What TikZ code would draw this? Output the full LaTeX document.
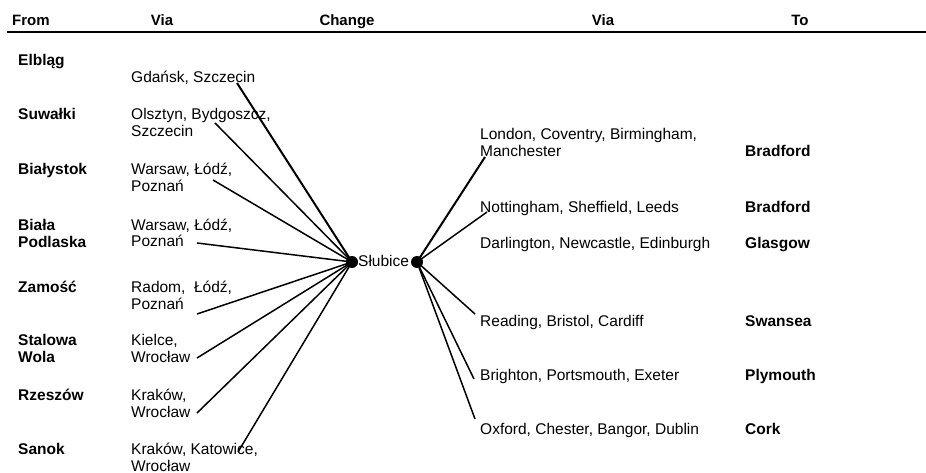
\documentclass[tikz,border=0pt]{standalone}
\usepackage{fontspec}
\setmainfont{Liberation Sans}
\begin{document}
\begin{tikzpicture}[x=1pt, y=-1pt,
        viatext/.style={anchor=base west, inner sep=0pt, align=left, font=\fontsize{15.5}{17}\selectfont},
        town/.style={anchor=base west, inner sep=0pt, align=left, font=\fontsize{15.5}{17.5}\selectfont\bfseries},
        colhead/.style={anchor=base, inner sep=0pt, font=\fontsize{15}{17}\selectfont\bfseries},
        hub/.style={circle, fill, inner sep=0pt, minimum size=12pt},
        route/.style={line width=1.5pt},
        mainroute/.style={line width=2pt}]
        \useasboundingbox (0,0) rectangle (926,473);

        % header
        \node (hFrom) [colhead, anchor=base west] at (12,26) {From};
        \node (hVia1) [colhead] at (162,26) {Via};
        \node (hChange) [colhead] at (347,26) {Change};
        \node (hVia2) [colhead] at (603,26) {Via};
        \node (hTo) [colhead] at (800,26) {To};
        \coordinate (ruleL) at (7,32);
        \coordinate (ruleR) at (926,32);
        \draw[line width=1.6pt] (ruleL) -- (ruleR);

        % from (two-line names sit on their last line)
        \node (elblag) [town] at (18,66) {Elbląg};
        \node (suwalki) [town] at (18,120) {Suwałki};
        \node (bialystok) [town] at (18,175) {Białystok};
        \node (biala) [town] at (18,247.5) {Biała\\Podlaska};
        \node (zamosc) [town] at (18,292) {Zamość};
        \node (stalowa) [town] at (18,362.5) {Stalowa\\Wola};
        \node (rzeszow) [town] at (18,400) {Rzeszów};
        \node (sanok) [town] at (18,454) {Sanok};

        % via (Poland)
        \node (vElblag) [viatext] at (131,83) {Gdańsk, Szczecin};
        \node (vSuwalki) [viatext] at (131,137) {Olsztyn, Bydgoszcz,\\Szczecin};
        \node (vBialystok) [viatext] at (131,192) {Warsaw, Łódź,\\Poznań};
        \node (vBiala) [viatext] at (131,247) {Warsaw, Łódź,\\Poznań};
        \node (vZamosc) [viatext] at (131,309) {Radom, \ Łódź,\\Poznań};
        \node (vStalowa) [viatext] at (131,362) {Kielce,\\Wrocław};
        \node (vRzeszow) [viatext] at (131,417) {Kraków,\\Wrocław};
        \node (vSanok) [viatext] at (131,471) {Kraków, Katowice,\\Wrocław};

        % change
        \node (hubL) [hub] at (352,262) {};
        \node (hubR) [hub] at (417,262) {};
        \node (slubice) [viatext] at (358,266) {Słubice};

        % via (Britain)
        \node (vBradford1) [viatext] at (480,157) {London, Coventry, Birmingham,\\Manchester};
        \node (vBradford2) [viatext] at (480,212) {Nottingham, Sheffield, Leeds};
        \node (vGlasgow) [viatext] at (480,248) {Darlington, Newcastle, Edinburgh};
        \node (vSwansea) [viatext] at (480,326) {Reading, Bristol, Cardiff};
        \node (vPlymouth) [viatext] at (480,380) {Brighton, Portsmouth, Exeter};
        \node (vCork) [viatext] at (480,434) {Oxford, Chester, Bangor, Dublin};

        % to
        \node (bradford1) [town] at (745,157) {Bradford};
        \node (bradford2) [town] at (745,212) {Bradford};
        \node (glasgow) [town] at (745,248) {Glasgow};
        \node (swansea) [town] at (745,326) {Swansea};
        \node (plymouth) [town] at (745,380) {Plymouth};
        \node (cork) [town] at (745,434) {Cork};

        % line ends
        \coordinate (eElblag) at (237,83);
        \coordinate (eSuwalki) at (215,123);
        \coordinate (eBialystok) at (213,180);
        \coordinate (eBiala) at (197,243);
        \coordinate (eZamosc) at (197,314);
        \coordinate (eStalowa) at (197,358);
        \coordinate (eRzeszow) at (197,413);
        \coordinate (eSanok) at (238,452);
        \coordinate (eBradford1) at (485,157);
        \coordinate (eBradford2) at (487,212);
        \coordinate (eSwansea) at (475,314);
        \coordinate (ePlymouth) at (474,379);
        \coordinate (eCork) at (475,419);

        % edges
        \draw[mainroute] (hubL.center) -- (eElblag);
        \draw[route] (hubL.center) -- (eSuwalki);
        \draw[route] (hubL.center) -- (eBialystok);
        \draw[route] (hubL.center) -- (eBiala);
        \draw[route] (hubL.center) -- (eZamosc);
        \draw[route] (hubL.center) -- (eStalowa);
        \draw[route] (hubL.center) -- (eRzeszow);
        \draw[route] (hubL.center) -- (eSanok);
        \draw[mainroute] (hubR.center) -- (eBradford1);
        \draw[route] (hubR.center) -- (eBradford2);
        \draw[route] (hubR.center) -- (eSwansea);
        \draw[route] (hubR.center) -- (ePlymouth);
        \draw[route] (hubR.center) -- (eCork);
    \end{tikzpicture}
\end{document}
